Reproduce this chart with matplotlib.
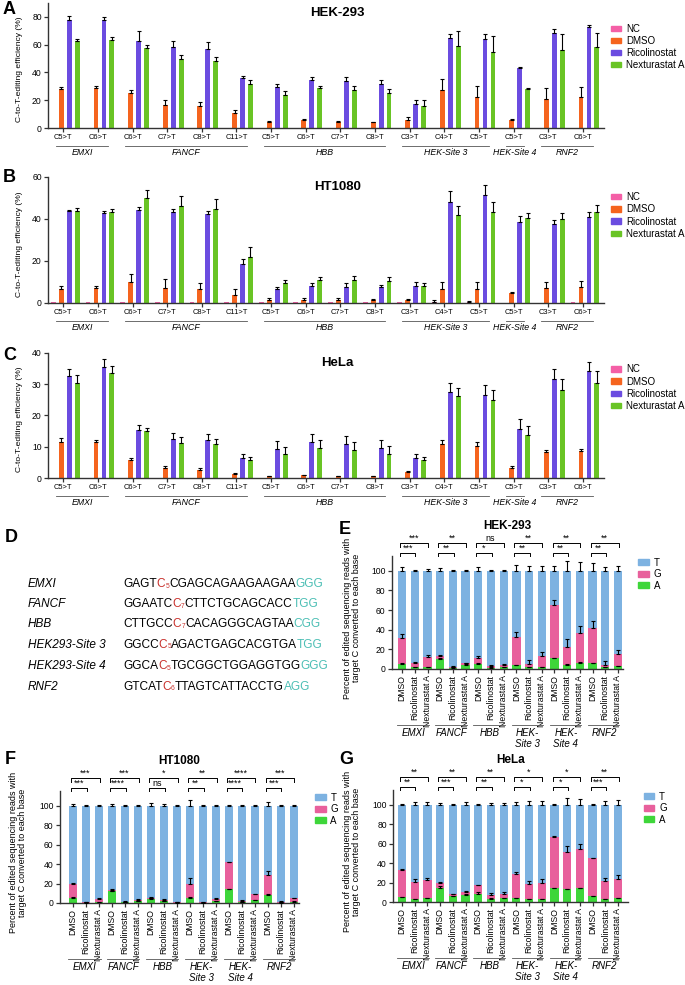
import numpy as np
import matplotlib
matplotlib.use("Agg")
import matplotlib.pyplot as plt
from matplotlib.patches import Patch

plt.rcParams['font.family'] = ['Liberation Sans', 'DejaVu Sans']

# ---------------- data: panels A-C (C-to-T editing efficiency, %) ----------------
sites = ["C5>T", "C6>T", "C6>T", "C7>T", "C8>T", "C11>T", "C5>T", "C6>T", "C7>T", "C8>T",
         "C3>T", "C4>T", "C5>T", "C5>T", "C3>T", "C6>T"]
genes = ["EMXI", "FANCF", "HBB", "HEK-Site 3", "HEK-Site 4", "RNF2"]
gene_span = [(0, 1), (2, 5), (6, 9), (10, 12), (13, 13), (14, 15)]
treatments = ["NC", "DMSO", "Ricolinostat", "Nexturastat A"]

# HEK-293
nc_a = [0, 0, 0.3, 0.3, 0.3, 0, 0, 0, 0, 0, 0, 0, 0, 0, 0.3, 0.3]
nc_a_sd = [0] * 16
dmso_a = [28, 28.5, 25, 16.5, 15.5, 10.5, 4.5, 5.5, 4.5, 4, 5.5, 27.5, 22.5, 6, 21, 22]
dmso_a_sd = [1.2, 1.5, 2.5, 4, 3.5, 2.5, 0.8, 0.8, 0.7, 0.5, 2.5, 7.5, 7.5, 0.3, 7.5, 7.5]
rico_a = [78, 77.5, 62.5, 58, 57, 36, 29.5, 34.5, 33.5, 32, 17, 65, 64, 43, 68.5, 73]
rico_a_sd = [2.5, 2.5, 7.5, 5, 5, 1.5, 2.5, 2.5, 3, 2.5, 3, 3, 4, 1, 2.5, 1]
nex_a = [62.5, 63.5, 57.5, 49.5, 48.5, 31.5, 24, 28.5, 27.5, 25.5, 15.5, 59, 55, 28, 56.5, 58.5]
nex_a_sd = [1.5, 2, 2, 3, 2.5, 3, 2.5, 2, 2.5, 2.5, 5, 10.5, 11, 1, 11, 10]

# HT1080
nc_b = [0.4, 0.4, 0.3, 0.3, 0.3, 0.3, 0.4, 0.3, 0.4, 0.3, 0.3, 0.5, 0.3, 0.2, 0.2, 0.3]
nc_b_sd = [0, 0, 0, 0, 0, 0, 0, 0, 0, 0, 0, 0.8, 0.8, 0, 0, 0]
dmso_b = [6.9, 7.0, 10, 7.2, 6.6, 4, 1.3, 1.3, 1.3, 1.3, 1.3, 6.7, 6.6, 4.8, 7.2, 7.7]
dmso_b_sd = [1.1, 1.0, 4, 4, 3, 2.6, 1.1, 1.3, 1.3, 0.8, 0.8, 3.3, 3.2, 0.3, 2.6, 2.9]
rico_b = [43.7, 42.9, 44.2, 43.2, 42.4, 18.6, 6.9, 8, 7.7, 7.7, 8.3, 48.2, 51.2, 38.4, 37.8, 41.1]
rico_b_sd = [0.8, 0.8, 1.6, 1.6, 1.6, 2.2, 0.5, 1.3, 1.6, 1.1, 1.7, 5.1, 5, 3.2, 1.9, 2.3]
nex_b = [43.7, 43.4, 49.8, 46.4, 45, 22, 9.3, 10.9, 10.9, 10.4, 8, 42.1, 43.4, 40.5, 40.2, 43.4]
nex_b_sd = [1.6, 1.4, 4, 4.5, 4.3, 4.6, 1.6, 1.6, 1.9, 1.8, 1.3, 4, 4.6, 2.2, 2.7, 3.2]

# HeLa
nc_c = [0] * 16
nc_c_sd = [0] * 16
dmso_c = [11.4, 11.4, 5.9, 3.3, 2.6, 1.4, 0.7, 0.85, 0.7, 0.6, 1.9, 11, 10.2, 3.2, 8.3, 8.6]
dmso_c_sd = [1.3, 0.9, 0.6, 0.6, 0.5, 0.2, 0.1, 0.1, 0.1, 0.1, 0.2, 1.1, 1.3, 0.5, 0.8, 0.8]
rico_c = [32.6, 35.5, 15.3, 12.4, 12, 6.3, 9.4, 11.4, 10.8, 9.5, 6.3, 27.4, 26.5, 15.6, 31.7, 34.2]
rico_c_sd = [2.4, 2.7, 1.8, 2.1, 2, 1.5, 2.4, 2.6, 2.5, 2.6, 1.3, 3, 3.4, 3.4, 3.1, 2.9]
nex_c = [30.5, 33.6, 15, 11.3, 10.9, 5.7, 7.8, 9.7, 9.1, 7.8, 5.7, 26.1, 24.9, 13.9, 28.1, 30.4]
nex_c_sd = [2.6, 2.2, 1.1, 1.8, 1.7, 1.1, 2.1, 2.4, 2.4, 2.4, 1.0, 2.7, 3.2, 2.7, 3.6, 3.8]

# ---------------- data: panel D (protospacers) ----------------
site_names = ["EMXI", "FANCF", "HBB", "HEK293-Site 3", "HEK293-Site 4", "RNF2"]
seq_pre = ["GAGT", "GGAATC", "CTTGCC", "GGCC", "GGCA", "GTCAT"]
seq_pos = ["5", "7", "7", "5", "5", "6"]
seq_post = ["CGAGCAGAAGAAGAA", "CTTCTGCAGCACC", "CACAGGGCAGTAA", "AGACTGAGCACGTGA",
            "TGCGGCTGGAGGTGG", "TTAGTCATTACCTG"]
seq_pam = ["GGG", "TGG", "CGG", "TGG", "GGG", "AGG"]

# ---------------- data: panels E-G (base identity, %) ----------------
conds = ["DMSO", "Ricolinostat", "Nexturastat A"] * 6
genes2 = ["EMXI", "FANCF", "HBB", "HEK-\nSite 3", "HEK-\nSite 4", "RNF2"]

a_e = [4.8, 2, 2, 10, 1.5, 4, 5, 1.5, 2, 4, 2, 2, 11, 4, 6.5, 6, 2, 3]
a_e_sd = [1.2, 0.3, 0.3, 1.2, 0.2, 1, 1.5, 0.3, 0.3, 0.5, 0.3, 0.3, 0.5, 1, 1, 0.5, 0.3, 0.5]
g_e = [27.2, 4, 10.5, 3, 1, 2, 6, 2, 2.5, 28.5, 3.5, 11, 54.5, 18.5, 30, 35.5, 2.5, 12.5]
g_e_sd = [3.4, 1, 1.8, 1.5, 0.5, 0.5, 2.5, 0.5, 1, 5, 4, 4, 4.5, 8, 7.5, 7.5, 3.5, 4]
t_e_sd = [3.4, 1, 2, 3, 0.8, 0.5, 4, 1, 1, 6, 5, 4.5, 5, 10, 9, 8, 4, 4.5]
top_e = ["***", "**", "ns", "**", "**", "**"]
low_e = ["***", "**", "*", "**", "**", "**"]

a_f = [5.5, 0.5, 1, 12, 1, 2, 4, 2, 0.5, 5.5, 0.3, 2, 14, 1, 3, 8.5, 0.5, 1.5]
a_f_sd = [1, 0.1, 0.2, 0.5, 0.2, 0.5, 1, 0.5, 0.1, 0.5, 0.1, 0.5, 0.5, 0.2, 0.5, 1, 0.1, 0.3]
g_f = [14, 0.5, 3, 1.5, 0.5, 1.5, 1.5, 1, 0.5, 14.5, 0.5, 2, 28, 1.5, 6, 20.5, 1, 3.5]
g_f_sd = [1.5, 0.2, 1, 1, 0.5, 0.5, 1, 1, 0.1, 5.5, 0.1, 1, 0.5, 0.5, 0.5, 3.5, 0.5, 0.5]
t_f_sd = [2, 0.3, 0.3, 1.5, 0.3, 0.3, 2.5, 2, 0.3, 6, 0.3, 1, 0.5, 0.3, 0.3, 4, 0.3, 0.3]
top_f = ["***", "***", "*", "**", "****", "***"]
low_f = ["***", "****", "ns", "**", "****", "***"]

a_g = [5, 3, 4, 14.5, 6, 7.5, 8.5, 3.5, 4, 4, 3, 3, 14, 13, 14, 6, 3, 4]
a_g_sd = [0.5, 0.5, 0.5, 2, 0.5, 1, 1.5, 0.5, 0.5, 0.5, 0.5, 0.5, 0.5, 0.5, 0.5, 0.5, 0.5, 0.5]
g_g = [28, 18, 18.5, 4.5, 2, 3, 8.5, 4, 4.5, 24.5, 15, 17, 52.5, 38, 40, 39, 19, 20]
g_g_sd = [1, 3, 2, 1.5, 0.5, 1, 0.5, 1.5, 1.5, 2.5, 4, 4, 1, 6, 6, 0.5, 3, 4]
t_g_sd = [0.5, 3, 3, 1.5, 1, 3, 1, 1.5, 1.5, 3, 4, 4, 0.5, 7, 6, 0.3, 4, 4.5]
top_g = ["**", "**", "**", "*", "*", "**"]
low_g = ["**", "***", "**", "*", "*", "***"]

# ---------------- colours ----------------
c_nc, c_dmso, c_rico, c_nex = "#F45FA6", "#F5641E", "#6B4CE0", "#69C425"
c_t, c_g, c_a = "#7DB2E1", "#E8609C", "#3ED63A"
spine_col = "#333333"

W, H = 685, 985
fig = plt.figure(figsize=(W / 100, H / 100), dpi=100)


def axes_px(left, top, right, bottom):
    return fig.add_axes([left / W, 1 - bottom / H, (right - left) / W, (bottom - top) / H])


def style(ax):
    for s in ["top", "right"]:
        ax.spines[s].set_visible(False)
    for s in ["left", "bottom"]:
        ax.spines[s].set_linewidth(1.0)
        ax.spines[s].set_color(spine_col)
    ax.tick_params(length=3, width=0.9, color=spine_col, labelsize=6.2, pad=1.5)


def editing_panel(ax, nc, nc_sd, dmso, dmso_sd, rico, rico_sd, nex, nex_sd,
                  ymax, ystep, title, leg_top):
    x = np.arange(len(sites))
    off, w = 0.23, 0.14
    series = [(nc, nc_sd, c_nc), (dmso, dmso_sd, c_dmso), (rico, rico_sd, c_rico), (nex, nex_sd, c_nex)]
    for k, (v, sd, col) in enumerate(series):
        pos = x + (k - 1.5) * off
        v = np.array(v, float)
        sd = np.array(sd, float)
        ax.bar(pos, v, w, color=col, zorder=2)
        m = sd > 0
        if m.any():
            ax.errorbar(pos[m], v[m], yerr=[np.zeros(m.sum()), sd[m]], fmt="none",
                        ecolor="black", elinewidth=0.8, capsize=1.2, capthick=0.8, zorder=3)
    style(ax)
    ax.set_xlim(-0.5, 15.55)
    ax.set_ylim(0, ymax)
    ax.set_yticks(np.arange(0, ymax + 0.1, ystep))
    ax.set_xticks(x - 0.06)
    ax.set_xticklabels(sites, fontsize=5.4)
    ax.set_ylabel("C-to-T-editing efficiency (%)", fontsize=6.1)
    ax.yaxis.set_label_coords(-0.045, 0.47)
    hpx = ax.get_position().height * H
    tr = ax.get_xaxis_transform()
    for g, (i0, i1) in zip(genes, gene_span):
        ax.plot([i0 - 0.27, i1 + 0.24], [-18 / hpx] * 2, color="#555555", lw=0.6,
                transform=tr, clip_on=False)
        ax.text((i0 + i1) / 2 - 0.02, -20 / hpx, g, transform=tr, ha="center", va="top",
                fontsize=6.3, style="italic")
    ax.text(0.52, 1.0 - 10 / hpx, title, transform=ax.transAxes, ha="center", va="center",
            fontsize=9.5, fontweight="bold")
    handles = [Patch(color=c) for c in [c_nc, c_dmso, c_rico, c_nex]]
    ax.legend(handles, treatments, loc="upper left", bbox_to_anchor=(1.005, leg_top),
              frameon=False, fontsize=7, handlelength=1.1, handleheight=0.45,
              labelspacing=0.22, handletextpad=0.5, borderaxespad=0)


def base_panel(ax, a, a_sd, g, g_sd, t_sd, top_sig, low_sig, title, xlim, ylab_x):
    x = np.arange(len(conds))
    a = np.array(a, float)
    g = np.array(g, float)
    ag = a + g
    t = 100 - ag
    w = 0.65
    ax.bar(x, a, w, color=c_a, zorder=2)
    ax.bar(x, g, w, bottom=a, color=c_g, zorder=2)
    ax.bar(x, t, w, bottom=ag, color=c_t, zorder=2)
    z = np.zeros(len(x))
    for yv, sd in [(a, a_sd), (ag, g_sd), (np.full(len(x), 100.0), t_sd)]:
        ax.errorbar(x, yv, yerr=[z, sd], fmt="none", ecolor="black", elinewidth=0.8,
                    capsize=1.6, capthick=0.8, zorder=3)
    style(ax)
    ax.set_xlim(*xlim)
    ax.set_ylim(0, 115)
    ax.set_yticks(np.arange(0, 101, 20))
    ax.set_xticks(x)
    ax.set_xticklabels(conds, rotation=90, fontsize=6.2)
    ax.set_ylabel("Percent of edited sequencing reads with\ntarget C converted to each base",
                  fontsize=6.5, linespacing=1.0)
    ax.yaxis.set_label_coords(ylab_x, 0.45)
    hpx = ax.get_position().height * H
    tr = ax.get_xaxis_transform()
    for j, gname in enumerate(genes2):
        i0, i1 = 3 * j, 3 * j + 2
        ax.plot([i0 - 0.38, i1 + 0.12], [-56 / hpx] * 2, color="#555555", lw=0.6,
                transform=tr, clip_on=False)
        ax.text((i0 + i1) / 2 - 0.1, -59 / hpx, gname, transform=tr, ha="center", va="top",
                fontsize=7, style="italic", linespacing=1.1)
        for (yb, lab, i_end) in [(118, low_sig[j], i0 + 1), (128, top_sig[j], i1)]:
            x0, x1 = i0 - 0.15, i_end + 0.05
            ax.plot([x0, x0, x1, x1], [yb - 3.5, yb, yb, yb - 3.5], color="black", lw=0.7,
                    clip_on=False)
            ax.text((x0 + x1) / 2, yb + 0.5, lab, ha="center", va="bottom", fontsize=6.5,
                    clip_on=False)
    ax.text(0.5, 1.0 + 30 / hpx, title, transform=ax.transAxes, ha="center", va="center",
            fontsize=8.5, fontweight="bold")
    handles = [Patch(color=c) for c in [c_t, c_g, c_a]]
    ax.legend(handles, ["T", "G", "A"], loc="upper left", bbox_to_anchor=(1.05, 1.02),
              frameon=False, fontsize=7, handlelength=1.1, handleheight=0.6,
              labelspacing=0.15, handletextpad=0.5, borderaxespad=0)


# ---------------- panels A-C ----------------
ax_a = axes_px(48, 3, 604, 128)
editing_panel(ax_a, nc_a, nc_a_sd, dmso_a, dmso_a_sd, rico_a, rico_a_sd, nex_a, nex_a_sd,
              90, 20, "HEK-293", 0.865)
ax_b = axes_px(48, 177, 604, 303)
editing_panel(ax_b, nc_b, nc_b_sd, dmso_b, dmso_b_sd, rico_b, rico_b_sd, nex_b, nex_b_sd,
              60, 20, "HT1080", 0.91)
ax_c = axes_px(48, 353, 604, 478)
editing_panel(ax_c, nc_c, nc_c_sd, dmso_c, dmso_c_sd, rico_c, rico_c_sd, nex_c, nex_c_sd,
              40, 10, "HeLa", 0.94)

# ---------------- panels E-G ----------------
ax_e = axes_px(392, 556, 623, 669)
base_panel(ax_e, a_e, a_e_sd, g_e, g_e_sd, t_e_sd, top_e, low_e, "HEK-293", (-0.8, 17.4), -0.135)
ax_f = axes_px(60, 791, 299, 903)
base_panel(ax_f, a_f, a_f_sd, g_f, g_f_sd, t_f_sd, top_f, low_f, "HT1080", (-1.0, 17.4), -0.14)
ax_g = axes_px(393, 790, 628, 902)
base_panel(ax_g, a_g, a_g_sd, g_g, g_g_sd, t_g_sd, top_g, low_g, "HeLa", (-0.71, 17.79), -0.135)

# ---------------- panel D ----------------
renderer = fig.canvas.get_renderer()


def put(xp, yp, s, **kw):
    t = fig.text(xp / W, 1 - yp / H, s, va="baseline", **kw)
    return t.get_window_extent(renderer).x1


row_y = [587, 607, 627, 648, 669, 690]
for name, pre, pos, post, pam, yb in zip(site_names, seq_pre, seq_pos, seq_post, seq_pam, row_y):
    fig.text(28 / W, 1 - yb / H, name, va="baseline", fontsize=8.5, style="italic")
    xx = put(123, yb, pre, fontsize=8.6)
    xx = put(xx, yb, "C", fontsize=8.6, color="#C8322D")
    xx = put(xx, yb + 0.5, pos, fontsize=4.8, color="#C8322D")
    xx = put(xx, yb, post, fontsize=8.6)
    put(xx, yb, pam, fontsize=8.6, color="#4DBFB5")

# ---------------- panel letters ----------------
for lab, xp, yp in [("A", 3, 10), ("B", 3, 178), ("C", 3, 356), ("D", 5, 538),
                    ("E", 339, 530), ("F", 5, 760), ("G", 339, 760)]:
    fig.text(xp / W, 1 - yp / H, lab, fontsize=13, fontweight="bold", va="center")

fig.savefig("out.png", dpi=100)
